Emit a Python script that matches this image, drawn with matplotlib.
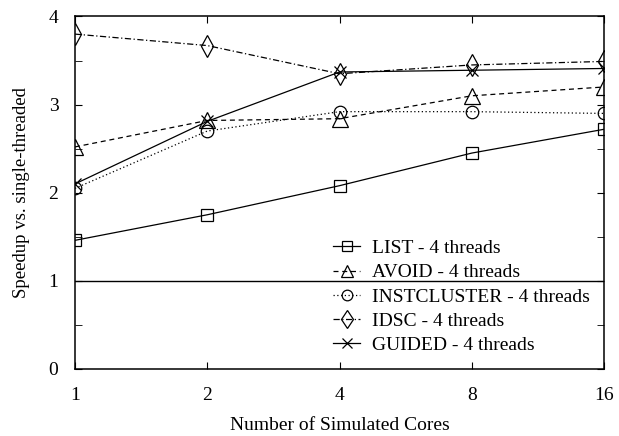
import matplotlib.pyplot as plt

plt.rcParams['font.family'] = ['Liberation Serif', 'DejaVu Serif']

# 数据
cores = [1, 2, 4, 8, 16]
list_vals = [1.46, 1.75, 2.08, 2.45, 2.72]
avoid_vals = [2.52, 2.82, 2.84, 3.10, 3.20]
inst_vals = [2.05, 2.70, 2.92, 2.92, 2.90]
idsc_vals = [3.80, 3.67, 3.35, 3.45, 3.49]
guided_vals = [2.10, 2.81, 3.37, 3.39, 3.41]
labels = ["LIST - 4 threads", "AVOID - 4 threads", "INSTCLUSTER - 4 threads",
          "IDSC - 4 threads", "GUIDED - 4 threads"]

fig = plt.figure(figsize=(6.19, 4.36), dpi=100)
ax = fig.add_axes([0.1212, 0.1537, 0.8546, 0.8085])

mk = dict(markerfacecolor='none', markeredgecolor='black',
          color='black', linewidth=0.9, markeredgewidth=0.9)
ax.plot(cores, list_vals, marker='s', markersize=8, linestyle='-', label=labels[0], **mk)
ax.plot(cores, avoid_vals, marker='^', markersize=11, linestyle=(0, (4, 3)), label=labels[1], **mk)
ax.plot(cores, inst_vals, marker='o', markersize=9, linestyle=(0, (1, 2)), label=labels[2], **mk)
ax.plot(cores, idsc_vals, marker='d', markersize=11, linestyle=(0, (5, 2, 1, 2)), label=labels[3], **mk)
ax.plot(cores, guided_vals, marker='x', markersize=8, linestyle='-', label=labels[4], **mk)

ax.axhline(1, color='black', linewidth=1.0)

ax.set_xscale('log', base=2)
ax.set_xlim(1, 16)
ax.set_ylim(0, 4)
ax.set_xticks(cores)
ax.set_xticklabels([str(c) for c in cores])
ax.set_xticks([], minor=True)
ax.set_yticks([0, 1, 2, 3, 4])
ax.set_yticks([0.5, 1.5, 2.5, 3.5], minor=True)
ax.tick_params(which='both', direction='in', top=True, right=True, labelsize=14,
               length=5)
ax.tick_params(axis='x', pad=13)
ax.tick_params(axis='y', pad=12)
for s in ax.spines.values():
    s.set_linewidth(1.1)

ax.set_xlabel("Number of Simulated Cores", fontsize=14, labelpad=9)
ax.set_ylabel("Speedup vs. single-threaded", fontsize=13.5, labelpad=13)

ax.legend(loc='upper left', bbox_to_anchor=(0.488, 0.367), frameon=False,
          fontsize=14, handlelength=1.4, handletextpad=0.6, labelspacing=0.34,
          borderpad=0, borderaxespad=0, markerscale=0.85)

fig.savefig("out.png", dpi=100)
